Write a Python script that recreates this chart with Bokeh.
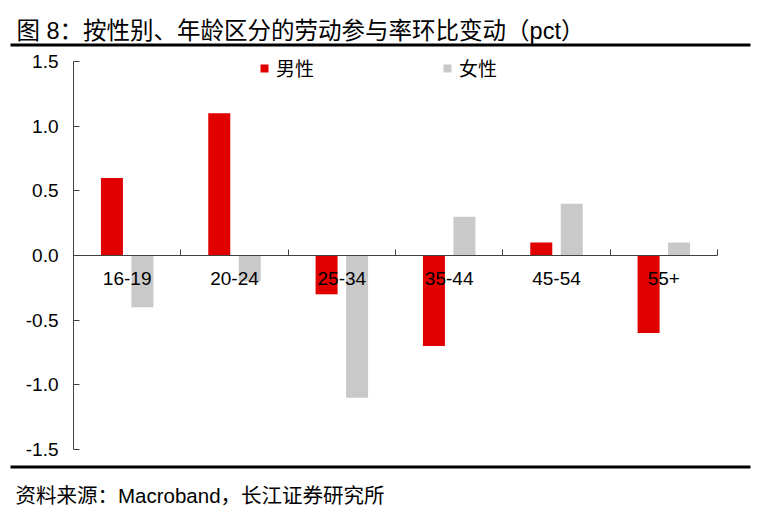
import numpy as np
from bokeh.plotting import figure
from bokeh.models import (Range1d, FixedTicker, NumeralTickFormatter, ColumnDataSource,
                          Label, BoxAnnotation)
from bokeh.embed import file_html
from bokeh.resources import INLINE

categories = ["16-19", "20-24", "25-34", "35-44", "45-54", "55+"]
male = [0.6, 1.1, -0.3, -0.7, 0.1, -0.6]
female = [-0.4, -0.2, -1.1, 0.3, 0.4, 0.1]
y_ticks = [-1.5, -1.0, -0.5, 0.0, 0.5, 1.0, 1.5]
y_min, y_max = -1.5, 1.5

title_text = "图 8：按性别、年龄区分的劳动参与率环比变动（pct）"
source_text = "资料来源：Macroband，长江证券研究所"

FONT = "Liberation Sans, Arial, Noto Sans CJK SC"
RED = "#E00000"
GRAY = "#C9C9C9"
AXIS = "#404040"

# canvas size and where the plotting box sits on it (pixels)
W, H = 752, 515
BL, BR, BT, BB = 73, 717, 61, 449
n = len(categories)
sx = (BR - BL) / n              # px per category
sy = (BB - BT) / (y_max - y_min)  # px per unit


def px(x):  # canvas pixel -> data x
    return (x - BL) / sx


def py(y):  # canvas pixel -> data y
    return y_max - (y - BT) / sy


centers = np.arange(n) + 0.5
src = ColumnDataSource(dict(xm=centers - 0.142, xf=centers + 0.142, male=male, female=female))

p = figure(width=W, height=H, x_range=Range1d(px(0), px(W)), y_range=Range1d(py(H), py(0)),
           output_backend="svg", toolbar_location=None, min_border=0,
           outline_line_color=None)
p.grid.visible = False
p.vbar(x="xm", top="male", width=0.205, source=src, fill_color=RED, line_color=None, legend_label="男性")
p.vbar(x="xf", top="female", width=0.205, source=src, fill_color=GRAY, line_color=None, legend_label="女性")

xa = p.xaxis[0]
xa.fixed_location = 0
xa.bounds = (0, n)
xa.ticker = FixedTicker(ticks=list(centers), minor_ticks=list(np.arange(n + 1)))
xa.major_label_overrides = {float(c): lab for c, lab in zip(centers, categories)}
xa.major_tick_line_color = None
xa.minor_tick_in = 6
xa.minor_tick_out = 0
xa.minor_tick_line_color = AXIS
xa.axis_line_color = AXIS
xa.major_label_text_font = FONT
xa.major_label_text_font_size = "19px"
xa.major_label_text_color = "black"
xa.major_label_standoff = 10

ya = p.yaxis[0]
ya.fixed_location = 0
ya.bounds = (y_min, y_max)
ya.ticker = FixedTicker(ticks=y_ticks, minor_ticks=[])
ya.formatter = NumeralTickFormatter(format="0.0")
ya.major_tick_in = 6
ya.major_tick_out = 0
ya.major_tick_line_color = AXIS
ya.minor_tick_line_color = None
ya.axis_line_color = AXIS
ya.major_label_text_font = FONT
ya.major_label_text_font_size = "19px"
ya.major_label_text_color = "black"
ya.major_label_standoff = 15

lg = p.legend[0]
lg.orientation = "horizontal"
lg.location = (259, H - 81)
lg.glyph_width = 10
lg.glyph_height = 10
lg.label_standoff = 7
lg.spacing = 128
lg.padding = 0
lg.margin = 0
lg.border_line_color = None
lg.background_fill_alpha = 0
lg.label_text_font = FONT
lg.label_text_font_size = "19px"
lg.label_text_color = "black"

# title, rules and source note
p.add_layout(Label(x=px(16), y=py(30), text=title_text,
                   text_font=FONT, text_font_size="23.5px", text_baseline="middle", text_color="black"))
p.add_layout(BoxAnnotation(left=px(10), right=px(750), top=py(43), bottom=py(46),
                           fill_color="black", fill_alpha=1, line_color=None))
p.add_layout(BoxAnnotation(left=px(10), right=px(750), top=py(465), bottom=py(468),
                           fill_color="black", fill_alpha=1, line_color=None))
p.add_layout(Label(x=px(15), y=py(495), text=source_text,
                   text_font=FONT, text_font_size="20.5px", text_baseline="middle", text_color="black"))

open("out.html", "w").write(file_html(p, INLINE))
